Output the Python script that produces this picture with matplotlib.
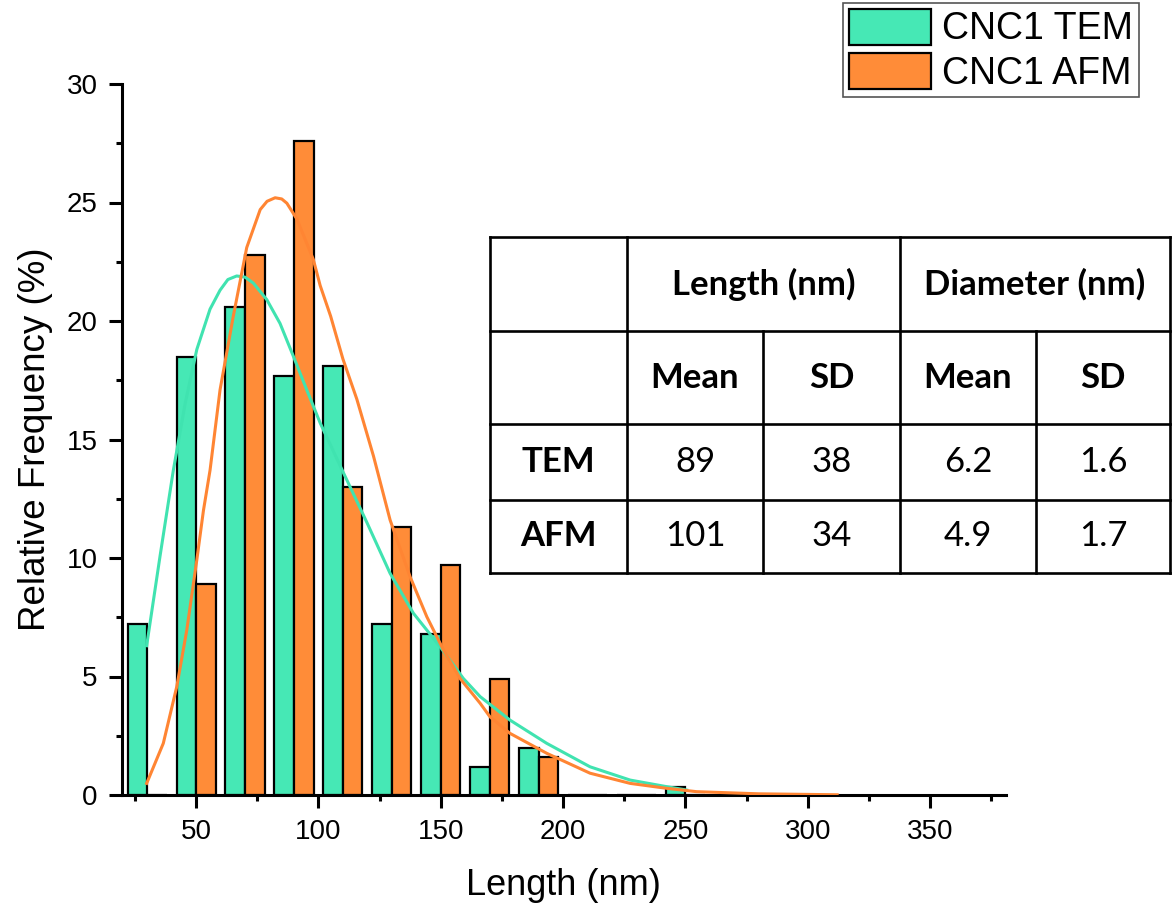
import numpy as np
import matplotlib.pyplot as plt
from matplotlib.patches import Patch

# histogram bins (nm) and relative frequencies (%)
bin_centers = [30, 50, 70, 90, 110, 130, 150, 170, 190, 210, 230, 250]
tem_freq = [7.2, 18.5, 20.6, 17.7, 18.1, 7.2, 6.8, 1.2, 2.0, 0, 0, 0.35]
afm_freq = [0, 8.9, 22.8, 27.6, 13.0, 11.3, 9.7, 4.9, 1.6, 0, 0, 0]

# fitted curves
tem_fit_x = [29.8, 35.3, 40.7, 45.5, 50.3, 55.7, 59.8, 63, 66.6, 70, 73.4,
             78.9, 84.3, 89.8, 95.2, 100.7, 110.2, 119.8, 129.3, 138.8, 149.7,
             159.2, 166.1, 178.3, 193.3, 211, 227.4, 242.4, 250.5]
tem_fit_y = [6.3, 10.1, 13.7, 16.5, 18.8, 20.5, 21.3, 21.75, 21.9, 21.85, 21.6,
             20.9, 19.9, 18.5, 17.1, 15.7, 13.6, 11.5, 9.35, 7.67, 6.26,
             4.92, 4.15, 3.16, 2.18, 1.19, 0.63, 0.35, 0.21]
afm_fit_x = [29.8, 36.6, 42.1, 46.2, 50.3, 53, 55.7, 59.8, 65.2, 70.7, 76.2,
             79, 82.3, 85, 87.1, 91.2, 97.9, 100.7, 105, 110, 115.7, 122.5,
             129.3, 137.5, 144.3, 151.1, 158, 166.1, 170.1, 178.3, 193.3, 211,
             227.4, 242.4, 254.6, 280, 312]
afm_fit_y = [0.49, 2.18, 4.57, 6.96, 9.92, 12.0, 13.7, 17.1, 20.2, 23.1, 24.7,
             25.05, 25.2, 25.15, 24.97, 24.3, 22.6, 21.5, 20.2, 18.4, 16.7, 14.3,
             11.6, 9.2, 7.52, 6.12, 4.9, 3.87, 3.3, 2.6, 1.76, 0.92,
             0.49, 0.28, 0.14, 0.05, 0.01]

# summary table
table_header = ["Length (nm)", "Diameter (nm)"]
table_sub = ["Mean", "SD", "Mean", "SD"]
table_rows = ["TEM", "AFM"]
table_vals = [["89", "38", "6.2", "1.6"],
              ["101", "34", "4.9", "1.7"]]

tem_color = "#46E8B5"
afm_color = "#FF8C38"
tem_line = "#40E3B0"
afm_line = "#FF8533"
W, H = 1173, 909
bar_w = 8

plt.rcParams["font.family"] = ["Liberation Sans", "DejaVu Sans"]

fig = plt.figure(figsize=(W / 100, H / 100), dpi=100)
ax = fig.add_axes([121.7 / W, 1 - 795 / H, (1006 - 121.7) / W, (795 - 84) / H])

centers = np.array(bin_centers)
ax.bar(centers - bar_w, tem_freq, width=bar_w, align="edge", color=tem_color,
       edgecolor="black", linewidth=1.6, zorder=2)
ax.bar(centers, afm_freq, width=bar_w, align="edge", color=afm_color,
       edgecolor="black", linewidth=1.6, zorder=2)
ax.plot(tem_fit_x, tem_fit_y, color=tem_line, lw=2.2, zorder=3,
        solid_joinstyle="round")
ax.plot(afm_fit_x, afm_fit_y, color=afm_line, lw=2.2, zorder=3,
        solid_joinstyle="round")

ax.set_xlim(19.6, 381)
ax.set_ylim(0, 30)
ax.set_xticks(np.arange(50, 351, 50))
ax.set_xticks(np.arange(25, 380, 50), minor=True)
ax.set_yticks(np.arange(0, 31, 5))
ax.set_yticks(np.arange(2.5, 30, 5), minor=True)
for s in ["top", "right"]:
    ax.spines[s].set_visible(False)
for s in ["left", "bottom"]:
    ax.spines[s].set_linewidth(2.2)
ax.tick_params(which="major", direction="out", length=9.5, width=2.2,
               labelsize=20, pad=8)
ax.tick_params(which="minor", direction="out", length=4.5, width=2.2)
ax.set_xlabel("Length (nm)", fontsize=26, labelpad=16)
ax.set_ylabel("Relative Frequency (%)", fontsize=26.5, labelpad=10)

# legend
handles = [Patch(facecolor=tem_color, edgecolor="black", linewidth=1.6),
           Patch(facecolor=afm_color, edgecolor="black", linewidth=1.6)]
leg = fig.legend(handles, ["CNC1 TEM", "CNC1 AFM"], loc="upper left",
                 bbox_to_anchor=(843 / W, 1 - 3 / H), fontsize=27,
                 frameon=True, fancybox=False, framealpha=1, edgecolor="#555555",
                 handlelength=2.2, handleheight=1.1, handletextpad=0.3,
                 labelspacing=0.15, borderpad=0.15, borderaxespad=0)
leg.get_frame().set_linewidth(1.2)

# table
col_px = [490, 627, 763, 900, 1036, 1170]
row_px = [237, 331, 424, 500, 573]
tax = fig.add_axes([0, 0, 1, 1])
tax.set_xlim(0, W)
tax.set_ylim(H, 0)
tax.axis("off")
lw = 1.9
for y in row_px:
    tax.plot([col_px[0], col_px[-1]], [y, y], color="black", lw=lw)
for i, x in enumerate(col_px):
    top = row_px[0] if i in (0, 1, 3, 5) else row_px[1]
    tax.plot([x, x], [top, row_px[-1]], color="black", lw=lw)

tfont = ["Lato", "DejaVu Sans"]
tsize = 25
ymid = [(row_px[i] + row_px[i + 1]) / 2 for i in range(4)]
xmid = [(col_px[i] + col_px[i + 1]) / 2 for i in range(5)]
tax.text((col_px[1] + col_px[3]) / 2, ymid[0], table_header[0], ha="center",
         va="center", fontsize=tsize, fontweight="bold", family=tfont)
tax.text((col_px[3] + col_px[5]) / 2, ymid[0], table_header[1], ha="center",
         va="center", fontsize=tsize, fontweight="bold", family=tfont)
for j, s in enumerate(table_sub):
    tax.text(xmid[j + 1], ymid[1], s, ha="center", va="center", fontsize=tsize,
             fontweight="bold", family=tfont)
for i, name in enumerate(table_rows):
    tax.text(xmid[0], ymid[i + 2], name, ha="center", va="center",
             fontsize=tsize, fontweight="bold", family=tfont)
    for j, v in enumerate(table_vals[i]):
        tax.text(xmid[j + 1], ymid[i + 2], v, ha="center", va="center",
                 fontsize=tsize, family=tfont)

fig.savefig("out.png", dpi=100)
